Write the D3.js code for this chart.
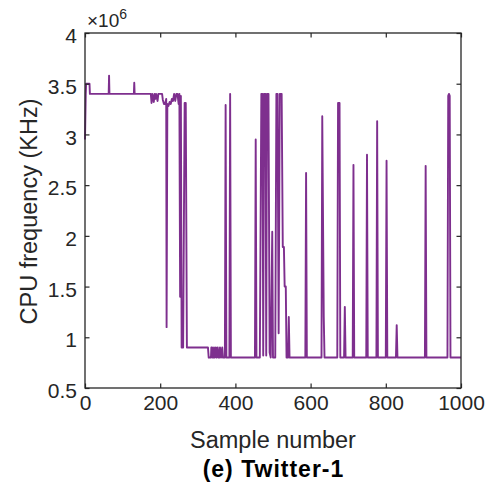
<!DOCTYPE html>
<html>
<head>
<meta charset="utf-8">
<script src="https://cdn.jsdelivr.net/npm/d3@7"></script>
<style>
  html, body { margin: 0; padding: 0; background: #fff; }
  svg { display: block; font-family: "Liberation Sans", Arial, Helvetica, sans-serif; }
</style>
</head>
<body>
<svg id="chart" width="485" height="488"></svg>
<script>
// ---- data ----
const sampleIdx = [
  0, 2, 3, 12, 13, 63, 64, 65, 130, 131, 132,
  175, 177, 179, 181, 183, 185, 187, 189, 193, 195, 205, 207, 210, 213, 216, 217,
  219, 222, 225, 228, 231, 234, 237, 240, 243, 246, 249, 251, 253, 255, 257, 261, 265, 268, 271,
  327, 329, 335, 336, 338, 339, 342, 343, 345, 348, 350, 353, 355, 357, 359, 362, 365, 367,
  372, 374, 376, 384, 386, 388,
  452, 454, 456, 465, 469, 472, 474, 476, 480, 482, 484, 488, 491, 494, 498, 500,
  506, 509, 512, 515, 518, 523, 526, 529, 531, 534, 536, 540, 542, 544,
  586, 588, 590, 629, 631, 635, 637, 671, 673, 677, 679, 689, 691, 693,
  712, 714, 716, 748, 750, 752, 775, 777, 779, 800, 802, 804, 827, 829, 831,
  904, 906, 908, 964, 966, 968, 970, 972, 1000
];
const cpuFreqKHz = [
  2.95e6, 3.4e6, 3.5e6, 3.5e6, 3.4e6, 3.4e6, 3.58e6, 3.4e6, 3.4e6, 3.51e6, 3.4e6,
  3.4e6, 3.31e6, 3.4e6, 3.36e6, 3.32e6, 3.4e6, 3.35e6, 3.4e6, 3.33e6, 3.4e6, 3.4e6, 3.34e6, 3.3e6, 3.3e6, 3.35e6, 1.1e6,
  3.3e6, 3.28e6, 3.32e6, 3.3e6, 3.35e6, 3.33e6, 3.4e6, 3.33e6, 3.4e6, 3.4e6, 3.3e6, 3.4e6, 1.4e6, 3.38e6, 0.9e6, 0.9e6, 3.31e6, 3.31e6, 0.9e6,
  0.9e6, 0.8e6, 0.8e6, 0.9e6, 0.9e6, 0.8e6, 0.8e6, 0.9e6, 0.8e6, 0.9e6, 0.8e6, 0.9e6, 0.8e6, 0.8e6, 0.9e6, 0.8e6, 0.9e6, 0.8e6,
  0.8e6, 3.29e6, 0.8e6, 0.8e6, 3.4e6, 0.8e6,
  0.8e6, 2.95e6, 0.8e6, 0.8e6, 3.4e6, 3.4e6, 0.82e6, 3.4e6, 3.4e6, 0.82e6, 3.4e6, 3.4e6, 0.85e6, 0.8e6, 2.04e6, 0.8e6,
  0.8e6, 3.4e6, 3.4e6, 1.04e6, 3.4e6, 3.4e6, 1.89e6, 1.89e6, 1.5e6, 1.5e6, 0.8e6, 0.8e6, 1.2e6, 0.8e6,
  0.8e6, 2.62e6, 0.8e6, 0.8e6, 3.18e6, 1.2e6, 0.8e6, 0.8e6, 3.31e6, 3.31e6, 0.8e6, 0.8e6, 1.3e6, 0.8e6,
  0.8e6, 2.7e6, 0.8e6, 0.8e6, 2.8e6, 0.8e6, 0.8e6, 3.13e6, 0.8e6, 0.8e6, 2.74e6, 0.8e6, 0.8e6, 1.12e6, 0.8e6,
  0.8e6, 2.69e6, 0.8e6, 0.8e6, 3.38e6, 3.4e6, 3.38e6, 0.8e6, 0.8e6
];
const xTickValues = [0, 200, 400, 600, 800, 1000];
const yTickValues = [0.5e6, 1e6, 1.5e6, 2e6, 2.5e6, 3e6, 3.5e6, 4e6];
const xLabel = "Sample number";
const yLabel = "CPU frequency (KHz)";
const caption = "(e) Twitter-1";

// ---- drawing ----
const svg = d3.select("#chart");
const pLeft = 85, pRight = 461, pTop = 33, pBottom = 388;
const textColor = "#262626";
const lineColor = "#7E2F8E";

const x = d3.scaleLinear().domain([0, 1000]).range([pLeft, pRight]);
const y = d3.scaleLinear().domain([0.5e6, 4e6]).range([pBottom, pTop]);

const points = sampleIdx.map((s, i) => [s, cpuFreqKHz[i]]);

// data line
svg.append("path")
  .datum(points)
  .attr("fill", "none")
  .attr("stroke", lineColor)
  .attr("stroke-width", 1.9)
  .attr("stroke-linejoin", "round")
  .attr("d", d3.line().x(d => x(d[0])).y(d => y(d[1])));

const tickLen = 4.5;
const fmtY = d => String(+(d / 1e6).toFixed(1));

// bottom axis (ticks inward)
const gx = svg.append("g").attr("transform", `translate(0,${pBottom})`)
  .call(d3.axisBottom(x).tickValues(xTickValues).tickSize(-tickLen).tickSizeOuter(0).tickPadding(0).tickFormat(d3.format("d")));
gx.select(".domain").remove();
gx.selectAll(".tick line").attr("stroke", textColor).attr("stroke-width", 1.2);
gx.selectAll(".tick text").attr("y", 21.5).attr("dy", 0).attr("fill", textColor)
  .style("font-size", "21px");

// top axis ticks
const gxt = svg.append("g").attr("transform", `translate(0,${pTop})`)
  .call(d3.axisTop(x).tickValues(xTickValues).tickSize(-tickLen).tickSizeOuter(0).tickFormat(""));
gxt.select(".domain").remove();
gxt.selectAll(".tick line").attr("stroke", textColor).attr("stroke-width", 1.2);

// left axis
const gy = svg.append("g").attr("transform", `translate(${pLeft},0)`)
  .call(d3.axisLeft(y).tickValues(yTickValues).tickSize(-tickLen).tickSizeOuter(0).tickPadding(8).tickFormat(fmtY));
gy.select(".domain").remove();
gy.selectAll(".tick line").attr("stroke", textColor).attr("stroke-width", 1.2);
gy.selectAll(".tick text").attr("fill", textColor).attr("dy", "0.46em")
  .style("font-size", "21px");

// right axis ticks
const gyr = svg.append("g").attr("transform", `translate(${pRight},0)`)
  .call(d3.axisRight(y).tickValues(yTickValues).tickSize(-tickLen).tickSizeOuter(0).tickFormat(""));
gyr.select(".domain").remove();
gyr.selectAll(".tick line").attr("stroke", textColor).attr("stroke-width", 1.2);

// frame
svg.append("rect")
  .attr("x", pLeft).attr("y", pTop)
  .attr("width", pRight - pLeft).attr("height", pBottom - pTop)
  .attr("fill", "none").attr("stroke", textColor).attr("stroke-width", 1.3);

// exponent label
const expo = svg.append("text").attr("x", pLeft + 2).attr("y", 27)
  .attr("fill", textColor).style("font-size", "19px");
expo.append("tspan").text("\u00D710");
expo.append("tspan").attr("dy", -8.5).style("font-size", "14px").text("6");

// axis labels
svg.append("text")
  .attr("x", (pLeft + pRight) / 2).attr("y", 448)
  .attr("text-anchor", "middle").attr("fill", textColor)
  .style("font-size", "23.5px")
  .text(xLabel);

svg.append("text")
  .attr("transform", `translate(37,${(pTop + pBottom) / 2 + 1}) rotate(-90)`)
  .attr("text-anchor", "middle").attr("fill", textColor)
  .style("font-size", "23.5px")
  .text(yLabel);

svg.append("text")
  .attr("x", (pLeft + pRight) / 2 + 0.5).attr("y", 476.5)
  .attr("text-anchor", "middle").attr("fill", "#000")
  .style("font-size", "23px").style("font-weight", "bold")
  .style("letter-spacing", "1px")
  .text(caption);
</script>
</body>
</html>
